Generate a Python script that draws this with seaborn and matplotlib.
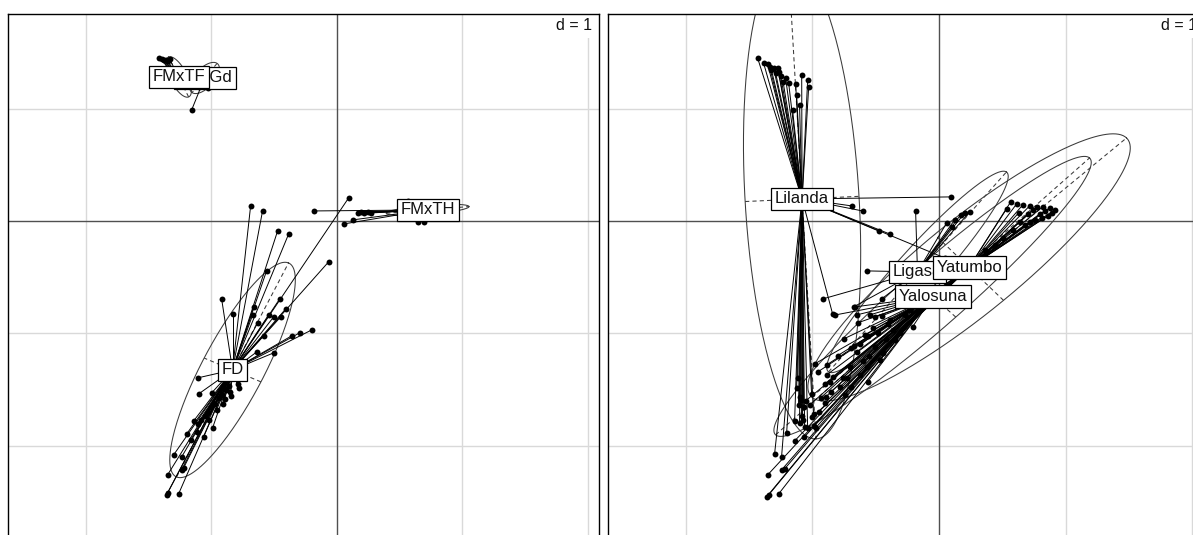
import numpy as np
import pandas as pd
import matplotlib
matplotlib.use("Agg")
import matplotlib.pyplot as plt
import seaborn as sns
from matplotlib.collections import LineCollection

# ---------------- data: left panel (factor 1) ----------------
fmxtf_x = [-1.418, -1.394, -1.378, -1.363, -1.347, -1.331, -1.20, -1.15]
fmxtf_y = [1.451, 1.443, 1.434, 1.434, 1.425, 1.443, 1.30, 1.22]
fmxgd_x = [-1.155, -1.100, -1.028, -1.00]
fmxgd_y = [0.988, 1.193, 1.184, 1.30]
fmxth_x = [-0.183, 0.056, 0.127, 0.167, 0.191, 0.215, 0.247, 0.271, 0.566, 0.645, 0.693, 0.829, 0.908]
fmxth_y = [0.089, -0.027, 0.009, 0.071, 0.080, 0.071, 0.080, 0.071, 0.178, -0.009, -0.009, 0.080, 0.116]
fd_x = [-0.685, -0.590, -0.470, -0.382, 0.096, -0.064, -0.558, -0.916, -0.829, -0.454,
        -0.406, -0.661, -0.669, -0.542, -0.502, -0.446, -0.629, -0.582, -0.359, -0.295,
        -0.199, -0.637, -0.502, -1.108, -1.100, -0.996, -0.789, -0.781, -0.853, -0.892,
        -1.139, -0.988, -1.195, -1.060, -1.299, -1.235, -1.219, -1.235, -1.347, -1.355,
        -1.347, -1.259, -0.861, -0.884, -0.916, -0.940, -0.972, -1.004, -1.028, -1.052,
        -1.084, -1.108, -0.956, -0.908, -1.020, -0.845, -1.116, -1.163]
fd_y = [0.134, 0.089, -0.089, -0.116, 0.205, -0.365, -0.445, -0.695, -0.828, -0.695,
        -0.784, -0.766, -0.837, -0.837, -0.855, -0.855, -0.908, -1.024, -1.024, -0.997,
        -0.971, -1.167, -1.175, -1.398, -1.541, -1.532, -1.451, -1.487, -1.523, -1.585,
        -1.781, -1.843, -1.897, -1.923, -2.084, -2.102, -2.199, -2.217, -2.262, -2.440,
        -2.422, -2.431, -1.469, -1.505, -1.552, -1.581, -1.634, -1.661, -1.705, -1.733,
        -1.776, -1.804, -1.683, -1.627, -1.772, -1.558, -1.879, -1.950]

left_groups = ["FMxGd", "FMxTF", "FMxTH", "FD"]
left_cx = [-1.052, -1.259, 0.725, -0.829]
left_cy = [1.273, 1.282, 0.098, -1.327]
left_ell_ax = [-0.10, -0.08, 0.33, 0.446]
left_ell_ay = [-0.13, 0.178, 0.03, 0.953]
left_ell_b = [0.08, 0.07, 0.04, 0.25]

# ---------------- data: right panel (factor 2) ----------------
lil_x = [-1.431, -1.384, -1.352, -1.336, -1.305, -1.273, -1.289, -1.265, -1.249, -1.210,
         -1.186, -1.131, -1.083, -1.036, -1.028, -1.155, -1.123, -1.100, -1.322, -1.230,
         -0.689, -0.603, -0.476, -0.389, 0.092, 0.045, -0.839,
         -1.115, -1.100, -1.084, -1.076, -1.100, -1.139, -1.060, -1.036, -1.005, -0.989,
         -1.297, -1.242, -1.202, -1.108, -1.092, -1.068, -1.123]
lil_y = [1.451, 1.407, 1.398, 1.371, 1.362, 1.362, 1.318, 1.327, 1.291, 1.273,
         1.229, 1.220, 1.300, 1.256, 1.193, 0.988, 1.122, 1.033, 1.345, 1.240,
         0.134, 0.089, -0.089, -0.116, 0.214, -0.329, -0.828,
         -1.398, -1.567, -1.736, -1.772, -1.799, -1.781, -1.834, -1.843, -1.541, -1.719,
         -2.075, -2.102, -1.888, -1.638, -1.594, -1.656, -1.487]
lig_x = [-0.184, -0.564, 0.061, 0.124, 0.171, 0.203, 0.242, 0.100, -0.918, -0.453, -0.674]
lig_y = [0.089, -0.445, -0.018, 0.009, 0.053, 0.071, 0.080, -0.053, -0.695, -0.695, -0.766]
yal_x = [-1.360, -1.344, -1.265, -1.352, -1.242, -1.218, -1.061, -0.989, -1.020, -0.934,
         -0.894, -0.957, -0.981, -0.886, -0.886, -0.863, -0.690, -0.587, -0.666, -0.642,
         -0.650, -0.547, -0.508, -0.453, -0.310, -0.208, -0.445, -0.571, -1.139, -0.817,
         -0.563, -0.674, -0.760, -0.697, -0.563, -0.973, -0.389, -0.271, -0.350, -0.468,
         -0.232, -0.626, -0.745, -0.800, -0.750, -0.900, -0.520, -0.400, -1.050]
yal_y = [-2.457, -2.440, -2.431, -2.262, -2.217, -2.208, -1.923, -1.825, -1.638, -1.576,
         -1.567, -1.345, -1.273, -1.282, -1.371, -1.434, -1.131, -1.015, -0.766, -0.908,
         -0.837, -0.837, -0.855, -0.846, -0.997, -0.944, -1.175, -1.300, -1.959, -0.837,
         -1.024, -1.113, -1.398, -1.478, -1.434, -1.843, -0.882, -0.837, -1.060, -1.238,
         -0.793, -1.371, -1.549, -1.200, -1.050, -1.450, -0.950, -0.920, -1.600]
yat_x = [0.566, 0.613, 0.661, 0.716, 0.771, 0.818, 0.874, 0.913, 0.534, 0.629,
         0.700, 0.795, 0.858, 0.756, 0.677, 0.582, 0.503, 0.637, 0.834, 0.740,
         0.440, 0.360, 0.892, 0.810, 0.720,
         -0.650, -0.508, -0.366, -0.783, -0.728, -0.839, -0.420, -0.600,
         -0.900, -0.850, -0.700, -0.550, -0.480, -0.620, -1.000, -0.950]
yat_y = [0.169, 0.151, 0.142, 0.134, 0.125, 0.125, 0.116, 0.098, 0.107, 0.071,
         0.062, 0.062, 0.045, 0.009, -0.036, -0.080, -0.151, -0.009, 0.089, 0.098,
         -0.214, -0.258, 0.070, 0.030, -0.010,
         -1.167, -1.122, -0.971, -1.478, -1.398, -1.389, -1.050, -1.250,
         -1.620, -1.520, -1.300, -1.200, -1.000, -1.100, -1.750, -1.700]

right_groups = ["Lilanda", "Ligasa", "Yalosuna", "Yatumbo"]
right_cx = [-1.080, -0.169, -0.050, 0.238]
right_cy = [0.196, -0.454, -0.672, -0.414]
right_ell_ax = [0.110, 0.702, 1.239, 1.243]
right_ell_ay = [-2.137, 0.890, 1.233, 1.153]
right_ell_b = [0.45, 0.18, 0.26, 0.40]

grid_v = [-2, -1, 1, 2]
grid_h = [-2, -1, 1]
x_lim = (-2.615, 2.09)
y_lim = (-2.85, 1.84)

left_df = pd.DataFrame({
    "x": fmxgd_x + fmxtf_x + fmxth_x + fd_x,
    "y": fmxgd_y + fmxtf_y + fmxth_y + fd_y,
    "g": ["FMxGd"] * len(fmxgd_x) + ["FMxTF"] * len(fmxtf_x) + ["FMxTH"] * len(fmxth_x) + ["FD"] * len(fd_x),
})
right_df = pd.DataFrame({
    "x": lil_x + lig_x + yal_x + yat_x,
    "y": lil_y + lig_y + yal_y + yat_y,
    "g": ["Lilanda"] * len(lil_x) + ["Ligasa"] * len(lig_x) + ["Yalosuna"] * len(yal_x) + ["Yatumbo"] * len(yat_x),
})

sns.set_theme(style="white")
plt.rcParams['font.family'] = ['Liberation Sans', 'DejaVu Sans']

fig = plt.figure(figsize=(11.93, 5.35), dpi=100)
ax_l = fig.add_axes([8.4 / 1193, -6 / 535, 590.5 / 1193, 526.7 / 535])
ax_r = fig.add_axes([607.6 / 1193, -6 / 535, 596.1 / 1193, 526.7 / 535])


def draw_panel(ax, df, groups, cx, cy, eax, eay, eb):
    ax.set_xlim(*x_lim)
    ax.set_ylim(*y_lim)
    for v in grid_v:
        ax.axvline(v, color="#d9d9d9", lw=1.0, zorder=0.5)
    for h in grid_h:
        ax.axhline(h, color="#d9d9d9", lw=1.0, zorder=0.5)
    ax.axvline(0, color="#505050", lw=1.0, zorder=1)
    ax.axhline(0, color="#505050", lw=1.0, zorder=1)

    t = np.linspace(0, 2 * np.pi, 300)
    for i, g in enumerate(groups):
        c = np.array([cx[i], cy[i]])
        A = np.array([eax[i], eay[i]])
        n = np.hypot(*A)
        B = np.array([-eay[i], eax[i]]) / n * eb[i]
        ell = c[None, :] + np.cos(t)[:, None] * A[None, :] + np.sin(t)[:, None] * B[None, :]
        ax.plot(ell[:, 0], ell[:, 1], color="#3a3a3a", lw=0.75, zorder=2)
        for V in (A, B):
            ax.plot([c[0] - V[0], c[0] + V[0]], [c[1] - V[1], c[1] + V[1]],
                    color="#3a3a3a", lw=0.75, ls=(0, (4, 3)), zorder=2)
        sub = df[df["g"] == g]
        segs = [[(cx[i], cy[i]), (px, py)] for px, py in zip(sub["x"], sub["y"])]
        ax.add_collection(LineCollection(segs, colors="black", linewidths=0.7, zorder=2.5))

    sns.scatterplot(data=df, x="x", y="y", color="black", s=18, linewidth=0,
                    ax=ax, legend=False, zorder=3)

    for i, g in enumerate(groups):
        ax.text(cx[i], cy[i], g, ha="center", va="center", fontsize=12, color="#111111",
                zorder=5 + i,
                bbox=dict(boxstyle="square,pad=0.22", facecolor="white", edgecolor="black", lw=0.9))

    ax.text(0.988, 0.993, "d = 1", transform=ax.transAxes, ha="right", va="top",
            fontsize=11.5, color="#111111", zorder=10,
            bbox=dict(boxstyle="square,pad=0.3", facecolor="white", edgecolor="none"))

    ax.set_xticks([])
    ax.set_yticks([])
    ax.set_xlabel("")
    ax.set_ylabel("")
    for s in ax.spines.values():
        s.set_visible(True)
        s.set_color("black")
        s.set_linewidth(1.0)
        s.set_zorder(11)


draw_panel(ax_l, left_df, left_groups, left_cx, left_cy, left_ell_ax, left_ell_ay, left_ell_b)
draw_panel(ax_r, right_df, right_groups, right_cx, right_cy, right_ell_ax, right_ell_ay, right_ell_b)

fig.savefig("out.png", dpi=100)
